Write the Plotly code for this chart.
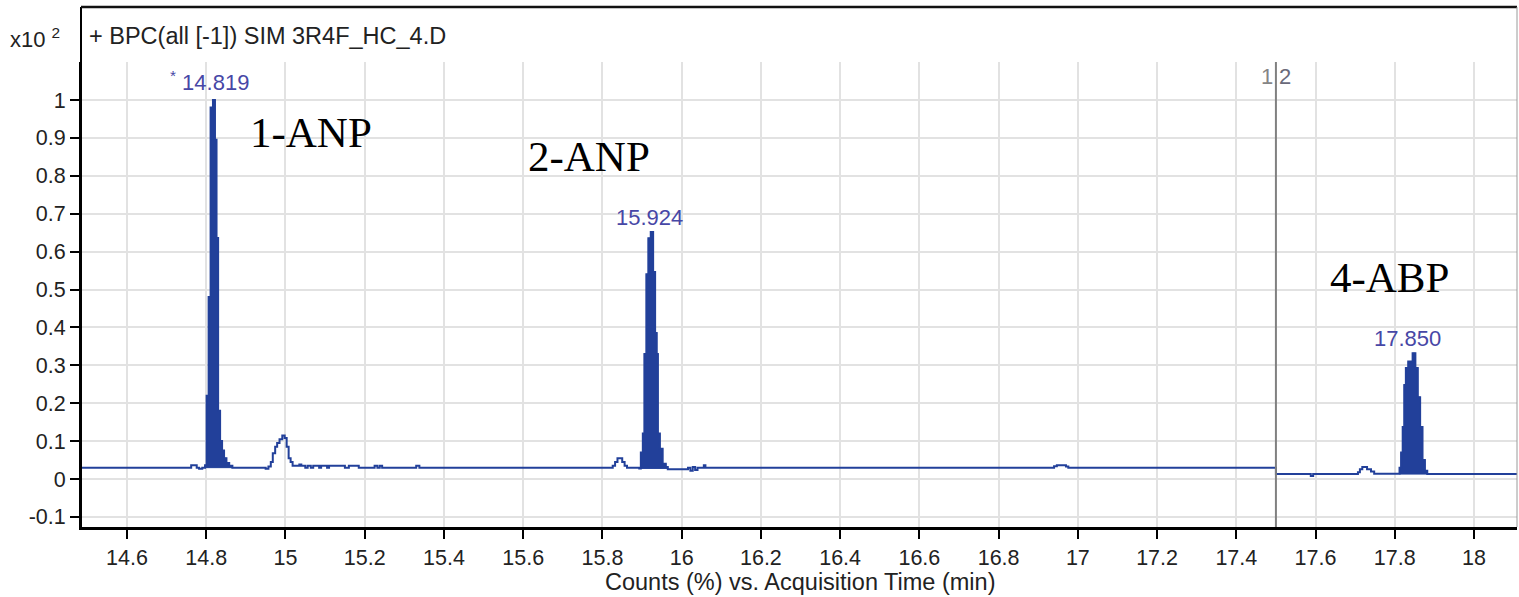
import plotly.graph_objects as go

# ---------------- data ----------------
time_min = [
    14.484, 14.762, 14.776, 14.782, 14.790, 14.797, 14.801, 14.806, 14.811, 14.817,
    14.822, 14.826, 14.830, 14.835, 14.840, 14.845, 14.851, 14.858, 14.866, 14.950,
    14.957, 14.963, 14.968, 14.974, 14.979, 14.985, 14.992, 14.998, 15.003, 15.008,
    15.013, 15.018, 15.035, 15.040, 15.050, 15.056, 15.064, 15.070, 15.085, 15.090,
    15.105, 15.110, 15.150, 15.160, 15.185, 15.225, 15.232, 15.238, 15.244, 15.330,
    15.338, 15.826, 15.832, 15.838, 15.850, 15.856, 15.862, 15.893, 15.897, 15.902,
    15.906, 15.911, 15.916, 15.922, 15.928, 15.933, 15.937, 15.940, 15.945, 15.952,
    15.960, 15.965, 16.016, 16.022, 16.028, 16.034, 16.040, 16.056, 16.060, 16.940,
    16.947, 16.970, 16.976, 17.500, 17.588, 17.594, 17.707, 17.712, 17.718, 17.730,
    17.740, 17.748, 17.812, 17.816, 17.820, 17.824, 17.828, 17.834, 17.845, 17.852,
    17.858, 17.864, 17.870, 17.876, 17.882, 18.109,
]
counts_e2 = [
    0.030, 0.036, 0.030, 0.027, 0.030, 0.036, 0.220, 0.480, 0.980, 1.000,
    0.895, 0.636, 0.180, 0.100, 0.075, 0.055, 0.042, 0.035, 0.030, 0.027,
    0.033, 0.045, 0.068, 0.085, 0.095, 0.105, 0.115, 0.108, 0.085, 0.055,
    0.045, 0.035, 0.038, 0.035, 0.030, 0.035, 0.030, 0.035, 0.030, 0.035,
    0.030, 0.035, 0.030, 0.035, 0.030, 0.035, 0.030, 0.035, 0.030, 0.035,
    0.030, 0.035, 0.045, 0.055, 0.045, 0.035, 0.030, 0.028, 0.070, 0.120,
    0.330, 0.540, 0.635, 0.652, 0.546, 0.385, 0.330, 0.120, 0.080, 0.040,
    0.032, 0.026, 0.030, 0.022, 0.032, 0.024, 0.030, 0.036, 0.030, 0.034,
    0.036, 0.033, 0.030, 0.013, 0.008, 0.013, 0.018, 0.026, 0.032, 0.026,
    0.020, 0.014, 0.030, 0.070, 0.137, 0.248, 0.293, 0.310, 0.332, 0.293,
    0.216, 0.137, 0.050, 0.022, 0.013, 0.013,
]

# integrated (filled) peaks: start, end, baseline
peak_start = [14.797, 15.893, 17.812]
peak_end = [14.866, 15.965, 17.882]
peak_base = [0.030, 0.028, 0.013]

# peak retention-time labels
rt_labels = ["<sup>*</sup> 14.819", "15.924", "17.850"]
rt_x = [14.808, 15.920, 17.832]
rt_y = [1.050, 0.689, 0.372]

# compound names
compound_names = ["1-ANP", "2-ANP", "4-ABP"]
compound_x = [15.064, 15.766, 17.787]
compound_y = [0.913, 0.850, 0.533]

segment_time = 17.5
x_ticks = [14.6, 14.8, 15, 15.2, 15.4, 15.6, 15.8, 16, 16.2, 16.4, 16.6, 16.8,
           17, 17.2, 17.4, 17.6, 17.8, 18]
y_ticks = [-0.1, 0, 0.1, 0.2, 0.3, 0.4, 0.5, 0.6, 0.7, 0.8, 0.9, 1]

header_text = "+ BPC(all [-1]) SIM 3R4F_HC_4.D"
x_title = "Counts (%) vs. Acquisition Time (min)"

# ---------------- figure ----------------
BLUE = "#22409A"
SANS = "Liberation Sans, Arial"
W, H = 1519, 597
L, R, T, B = 81, 2, 62, 70
pw, ph = W - L - R, H - T - B


def px_to_paper(x, y):
    return (x - L) / pw, (H - B - y) / ph


fig = go.Figure()

for s, e, b in zip(peak_start, peak_end, peak_base):
    px = [t for t in time_min if s <= t <= e]
    py = [c for t, c in zip(time_min, counts_e2) if s <= t <= e]
    fig.add_trace(go.Scatter(
        x=px + [e, s], y=py + [b, b], mode="lines", line_shape="hv",
        fill="toself", fillcolor=BLUE, line=dict(color=BLUE, width=1),
        hoverinfo="skip", showlegend=False))

fig.add_trace(go.Scatter(
    x=time_min, y=counts_e2, mode="lines", line_shape="hv",
    line=dict(color=BLUE, width=2), hoverinfo="skip", showlegend=False))

# segment divider
fig.add_shape(type="line", xref="x", yref="paper", x0=segment_time, x1=segment_time,
              y0=0, y1=1.0, line=dict(color="#808080", width=2), layer="above")

TOP = px_to_paper(0, 7)[1]  # top border in paper units
fig.add_shape(type="line", xref="paper", yref="paper", x0=0, x1=0, y0=0, y1=TOP,
              line=dict(color="black", width=2))
fig.add_shape(type="line", xref="paper", yref="paper", x0=0, x1=1, y0=TOP, y1=TOP,
              line=dict(color="#111111", width=2.5))
fig.add_shape(type="line", xref="paper", yref="paper", x0=1, x1=1, y0=0, y1=TOP,
              line=dict(color="#9a9a9a", width=1))

ann = []
for t, x, y in zip(rt_labels, rt_x, rt_y):
    ann.append(dict(x=x, y=y, xref="x", yref="y", text=t, showarrow=False,
                    font=dict(family=SANS, size=22, color="#4747A6")))
for t, x, y in zip(compound_names, compound_x, compound_y):
    ann.append(dict(x=x, y=y, xref="x", yref="y", text=t, showarrow=False,
                    font=dict(family="Liberation Serif, Times New Roman", size=43, color="black")))
ann.append(dict(x=segment_time, y=1.061, xref="x", yref="y", text="1", showarrow=False,
                xanchor="right", xshift=-1, font=dict(family=SANS, size=22, color="#858585")))
ann.append(dict(x=segment_time, y=1.061, xref="x", yref="y", text="2", showarrow=False,
                xanchor="left", xshift=1, font=dict(family=SANS, size=22, color="#6a6a7a")))

hx, hy = px_to_paper(87, 36)
ann.append(dict(x=hx, y=hy, xref="paper", yref="paper", text=header_text,
                showarrow=False, xanchor="left", yanchor="middle",
                font=dict(family=SANS, size=23.5, color="#222222")))
sx, sy = px_to_paper(8, 38)
ann.append(dict(x=sx, y=sy, xref="paper", yref="paper", text="x10 <sup>2</sup>",
                showarrow=False, xanchor="left", yanchor="middle",
                font=dict(family=SANS, size=22, color="#222222")))
tx, ty = px_to_paper(800, 582)
ann.append(dict(x=tx, y=ty, xref="paper", yref="paper", text=x_title,
                showarrow=False, xanchor="center", yanchor="middle",
                font=dict(family=SANS, size=23.5, color="#222222")))

fig.update_layout(
    width=W, height=H,
    margin=dict(l=L, r=R, t=T, b=B, autoexpand=False),
    paper_bgcolor="white", plot_bgcolor="white",
    annotations=ann,
    xaxis=dict(range=[14.4839, 18.1085], tickvals=x_ticks,
               ticktext=[f"{v:g}" for v in x_ticks], automargin=False,
               showgrid=True, gridcolor="#e2e2e2", gridwidth=2,
               showline=True, linecolor="black", linewidth=3,
               ticks="outside", ticklen=9, tickwidth=2, tickcolor="black",
               tickfont=dict(family=SANS, size=21.5, color="#222222"),
               zeroline=False),
    yaxis=dict(range=[-0.1266, 1.1003], tickvals=y_ticks,
               ticktext=[f"{v:g}" for v in y_ticks], automargin=False,
               showgrid=True, gridcolor="#e2e2e2", gridwidth=2,
               showline=True, linecolor="black", linewidth=2,
               ticks="outside", ticklen=9, tickwidth=2, tickcolor="black",
               tickfont=dict(family=SANS, size=21.5, color="#222222"),
               zeroline=False),
    showlegend=False,
)

fig.write_html("out.html", config={"displayModeBar": False},
               post_script="document.body.style.margin='0';document.body.style.overflow='hidden';")
